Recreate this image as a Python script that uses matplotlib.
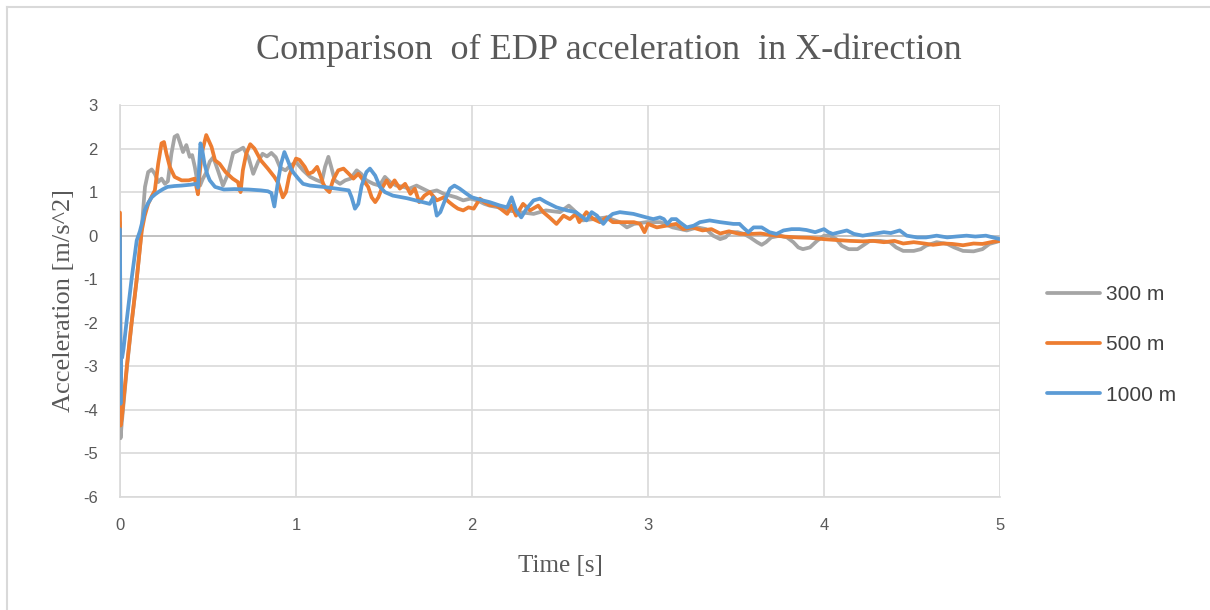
import matplotlib
matplotlib.use("Agg")
import matplotlib.pyplot as plt
from matplotlib.lines import Line2D

plt.rcParams["axes.unicode_minus"] = False

# ---- data: acceleration histories at three distances ----
t_300 = [0.0, 0.003, 0.01, 0.04, 0.066, 0.095, 0.12, 0.142, 0.16, 0.18, 0.198, 0.217, 0.236,
         0.255, 0.272, 0.292, 0.31, 0.326, 0.34, 0.358, 0.377, 0.396, 0.41, 0.425, 0.44, 0.455,
         0.47, 0.49, 0.51, 0.53, 0.557, 0.585, 0.614, 0.643, 0.67, 0.7, 0.73, 0.757, 0.785, 0.81,
         0.835, 0.86, 0.885, 0.91, 0.94, 0.966, 1.0, 1.04, 1.08, 1.115, 1.146, 1.165, 1.184, 1.2,
         1.22, 1.25, 1.28, 1.31, 1.345, 1.37, 1.4, 1.44, 1.475, 1.505, 1.535, 1.57, 1.61, 1.645,
         1.685, 1.72, 1.76, 1.8, 1.84, 1.875, 1.91, 1.95, 1.99, 2.03, 2.07, 2.1, 2.15, 2.2, 2.27,
         2.35, 2.42, 2.5, 2.55, 2.58, 2.63, 2.69, 2.765, 2.84, 2.88, 2.92, 2.99, 3.07, 3.14, 3.22,
         3.28, 3.33, 3.37, 3.41, 3.44, 3.47, 3.51, 3.545, 3.58, 3.62, 3.646, 3.67, 3.7, 3.75, 3.79,
         3.826, 3.854, 3.88, 3.92, 3.96, 4.0, 4.035, 4.07, 4.1, 4.14, 4.19, 4.22, 4.26, 4.32,
         4.375, 4.41, 4.45, 4.51, 4.55, 4.58, 4.64, 4.7, 4.74, 4.79, 4.85, 4.9, 4.94, 5.0]
a_300 = [0.3, -4.65, -4.3, -3.0, -2.0, -1.0, 0.0, 1.12, 1.46, 1.52, 1.42, 1.23, 1.31,
         1.19, 1.25, 1.88, 2.27, 2.31, 2.15, 1.92, 2.08, 1.81, 1.85, 1.58, 1.23, 1.15,
         1.3, 1.45, 1.7, 1.8, 1.49, 1.15, 1.42, 1.9, 1.95, 2.02, 1.8, 1.42, 1.7, 1.88,
         1.82, 1.9, 1.8, 1.56, 1.5, 1.6, 1.69, 1.5, 1.35, 1.28, 1.23, 1.58, 1.81, 1.58,
         1.27, 1.19, 1.27, 1.31, 1.5, 1.42, 1.27, 1.19, 1.15, 1.35, 1.23, 1.15, 1.12, 1.08,
         1.15, 1.08, 1.0, 1.04, 0.96, 0.92, 0.88, 0.81, 0.85, 0.81, 0.73, 0.69, 0.65, 0.58, 0.54,
         0.5, 0.58, 0.54, 0.69, 0.58, 0.35, 0.38, 0.42, 0.31, 0.19, 0.27, 0.31, 0.31, 0.19, 0.12,
         0.19, 0.15, 0.0, -0.08, -0.04, 0.08, 0.08, 0.04, -0.04, -0.15, -0.21, -0.15, -0.04, 0.0, -0.04,
         -0.15, -0.27, -0.31, -0.27, -0.12, 0.0, 0.0, -0.08, -0.23, -0.31, -0.31, -0.23, -0.12, -0.12,
         -0.15, -0.27, -0.35, -0.35, -0.31, -0.23, -0.15, -0.19, -0.27, -0.35, -0.36, -0.31, -0.19, -0.12]

t_500 = [0.0, 0.003, 0.01, 0.04, 0.066, 0.095, 0.123, 0.14, 0.16, 0.18, 0.198, 0.217, 0.236,
         0.25, 0.264, 0.283, 0.31, 0.35, 0.39, 0.425, 0.435, 0.443, 0.452, 0.465, 0.49, 0.52,
         0.54, 0.566, 0.6, 0.64, 0.67, 0.685, 0.698, 0.717, 0.74, 0.764, 0.8, 0.84, 0.877, 0.9,
         0.925, 0.943, 0.962, 0.98, 1.0, 1.02, 1.05, 1.07, 1.095, 1.12, 1.137, 1.155, 1.17, 1.19,
         1.21, 1.24, 1.27, 1.3, 1.326, 1.354, 1.383, 1.41, 1.43, 1.45, 1.468, 1.487, 1.515, 1.535,
         1.56, 1.59, 1.62, 1.65, 1.675, 1.7, 1.73, 1.76, 1.8, 1.84, 1.87, 1.895, 1.92, 1.95, 1.98,
         2.01, 2.045, 2.07, 2.1, 2.14, 2.2, 2.225, 2.25, 2.29, 2.33, 2.376, 2.405, 2.44, 2.48, 2.52,
         2.556, 2.59, 2.61, 2.65, 2.69, 2.727, 2.765, 2.8, 2.86, 2.92, 2.955, 2.98, 3.0, 3.05, 3.106,
         3.16, 3.2, 3.25, 3.31, 3.36, 3.41, 3.46, 3.52, 3.58, 3.64, 3.69, 3.77, 3.85, 3.92, 4.0,
         4.07, 4.15, 4.22, 4.28, 4.34, 4.4, 4.45, 4.51, 4.57, 4.62, 4.68, 4.73, 4.79, 4.85, 4.9,
         4.96, 5.0]
a_500 = [0.53, -4.36, -4.2, -2.95, -2.0, -1.0, 0.1, 0.45, 0.73, 0.9, 1.04, 1.65, 2.12,
         2.15, 1.88, 1.58, 1.35, 1.27, 1.27, 1.31, 1.1, 0.95, 1.4, 1.9, 2.31, 2.04,
         1.73, 1.65, 1.46, 1.31, 1.23, 1.0, 1.5, 1.88, 2.1, 2.0, 1.73, 1.54, 1.35, 1.2,
         0.88, 1.0, 1.38, 1.58, 1.77, 1.74, 1.58, 1.42, 1.46, 1.58, 1.4, 1.19, 1.08, 1.0,
         1.27, 1.5, 1.54, 1.42, 1.31, 1.42, 1.27, 1.12, 0.88, 0.77, 0.88, 1.08, 1.27, 1.12,
         1.27, 1.08, 1.19, 0.96, 1.08, 0.77, 0.92, 1.0, 0.81, 0.88, 0.77, 0.69, 0.62, 0.58, 0.65,
         0.62, 0.85, 0.77, 0.7, 0.69, 0.5, 0.69, 0.46, 0.73, 0.58, 0.69, 0.54, 0.42, 0.27, 0.46,
         0.38, 0.5, 0.31, 0.54, 0.38, 0.31, 0.42, 0.31, 0.31, 0.31, 0.27, 0.08, 0.27, 0.19, 0.23,
         0.27, 0.15, 0.19, 0.12, 0.15, 0.05, 0.1, 0.04, 0.04, 0.05, 0.02, -0.02, -0.04, -0.05, -0.08,
         -0.1, -0.12, -0.13, -0.12, -0.15, -0.12, -0.18, -0.15, -0.18, -0.21, -0.18, -0.19, -0.22, -0.18, -0.19,
         -0.14, -0.12]

t_1000 = [0.0, 0.003, 0.006, 0.012, 0.02, 0.038, 0.066, 0.095, 0.113, 0.132, 0.14, 0.16, 0.18,
          0.2, 0.217, 0.245, 0.27, 0.31, 0.35, 0.4, 0.434, 0.443, 0.45, 0.457, 0.468, 0.48, 0.495,
          0.51, 0.54, 0.59, 0.65, 0.73, 0.8, 0.84, 0.86, 0.877, 0.888, 0.9, 0.915, 0.934, 0.953,
          0.97, 0.985, 1.013, 1.04, 1.08, 1.155, 1.23, 1.3, 1.316, 1.335, 1.354, 1.373, 1.4, 1.42,
          1.45, 1.477, 1.505, 1.55, 1.63, 1.72, 1.76, 1.78, 1.8, 1.82, 1.85, 1.875, 1.9, 1.93, 1.97,
          2.0, 2.06, 2.1, 2.16, 2.2, 2.225, 2.25, 2.28, 2.31, 2.35, 2.386, 2.42, 2.48, 2.54, 2.59,
          2.63, 2.65, 2.68, 2.71, 2.746, 2.775, 2.8, 2.84, 2.917, 2.99, 3.03, 3.068, 3.09, 3.11,
          3.134, 3.16, 3.18, 3.22, 3.26, 3.295, 3.35, 3.41, 3.485, 3.52, 3.54, 3.57, 3.6, 3.646,
          3.69, 3.73, 3.77, 3.816, 3.86, 3.9, 3.95, 4.0, 4.025, 4.05, 4.09, 4.13, 4.17, 4.22, 4.28,
          4.34, 4.38, 4.43, 4.47, 4.53, 4.58, 4.64, 4.7, 4.75, 4.81, 4.86, 4.92, 5.0]
a_1000 = [0.15, -3.86, -2.55, -2.8, -2.6, -1.95, -0.99, -0.11, 0.1, 0.4, 0.58, 0.75, 0.88,
          0.95, 1.0, 1.07, 1.12, 1.14, 1.15, 1.17, 1.19, 1.1, 1.6, 2.12, 1.95, 1.65, 1.42,
          1.27, 1.12, 1.06, 1.07, 1.06, 1.04, 1.02, 0.98, 0.67, 0.98, 1.3, 1.65, 1.92, 1.73,
          1.55, 1.45, 1.31, 1.19, 1.15, 1.12, 1.08, 1.04, 0.88, 0.62, 0.73, 1.15, 1.46, 1.54,
          1.38, 1.12, 1.0, 0.92, 0.86, 0.77, 0.73, 0.88, 0.46, 0.54, 0.85, 1.08, 1.15, 1.08, 0.96,
          0.88, 0.81, 0.77, 0.69, 0.65, 0.88, 0.58, 0.42, 0.62, 0.81, 0.85, 0.77, 0.65, 0.58, 0.54,
          0.42, 0.35, 0.54, 0.46, 0.27, 0.42, 0.5, 0.54, 0.5, 0.42, 0.38, 0.42, 0.38, 0.27,
          0.38, 0.38, 0.31, 0.19, 0.23, 0.31, 0.35, 0.31, 0.27, 0.27, 0.19, 0.08, 0.19, 0.19,
          0.08, 0.04, 0.12, 0.15, 0.15, 0.13, 0.08, 0.15, 0.08, 0.04, 0.08, 0.12, 0.04, 0.0, 0.04,
          0.08, 0.06, 0.12, 0.0, -0.04, -0.04, 0.0, -0.04, -0.02, 0.0, -0.02, 0.0, -0.08]

series_labels = ["300 m", "500 m", "1000 m"]
series_colors = ["#A5A5A5", "#ED7D31", "#5B9BD5"]

x_ticks = [0, 1, 2, 3, 4, 5]
y_ticks = [3, 2, 1, 0, -1, -2, -3, -4, -5, -6]

# ---- figure ----
W, H = 1210, 610
fig = plt.figure(figsize=(W / 100, H / 100), dpi=100)
fig.patch.set_facecolor("white")

# chart-area border (left and top edges)
frame = "#D9D9D9"
fig.add_artist(Line2D([7 / W, 7 / W], [0, 1 - 7 / H], color=frame, lw=1.5))
fig.add_artist(Line2D([7 / W, 1], [1 - 7 / H, 1 - 7 / H], color=frame, lw=1.5))

ax = fig.add_axes([120 / W, 1 - 497 / H, 880 / W, 392 / H])

grid_c = "#D9D9D9"
for spine in ["top", "right"]:
    ax.spines[spine].set_visible(False)
ax.spines["left"].set_color(grid_c)
ax.spines["bottom"].set_color(grid_c)
ax.spines["left"].set_linewidth(1.2)
ax.spines["bottom"].set_linewidth(1.2)

ax.set_xlim(0, 5)
ax.set_ylim(-6, 3)
ax.set_xticks(x_ticks)
ax.set_yticks(y_ticks)
ax.grid(True, color=grid_c, lw=1.2)
ax.axhline(0, color="#BFBFBF", lw=1.3, zorder=1)
ax.set_axisbelow(True)
ax.tick_params(length=0, labelsize=12, labelcolor="#595959")
ax.tick_params(axis="x", pad=15)
ax.tick_params(axis="y", pad=16)
for lab in ax.get_xticklabels() + ax.get_yticklabels():
    lab.set_fontfamily("Liberation Sans")

series = [(t_300, a_300), (t_500, a_500), (t_1000, a_1000)]
handles = []
for (tt, aa), lab, col in zip(series, series_labels, series_colors):
    h, = ax.plot(tt, aa, color=col, lw=2.7, label=lab, solid_joinstyle="round",
                 solid_capstyle="round", zorder=3)
    handles.append(h)

ax.set_xlabel("Time [s]", fontfamily="Liberation Serif", fontsize=18,
              color="#595959", labelpad=16)
ax.set_ylabel("Acceleration [m/s^2]", fontfamily="Liberation Serif", fontsize=19,
              color="#595959", labelpad=6)

fig.text(609 / W, 1 - 50 / H, "Comparison  of EDP acceleration  in X-direction",
         fontfamily="Liberation Serif", fontsize=26, color="#595959",
         ha="center", va="center")

leg = fig.legend(handles=handles, labels=series_labels, loc="center left",
                 bbox_to_anchor=(1047 / W, 1 - 345 / H), frameon=False,
                 borderaxespad=0, borderpad=0, handlelength=2.55,
                 handletextpad=0.3, labelspacing=1.5,
                 prop={"family": "Liberation Sans", "size": 15})
for txt in leg.get_texts():
    txt.set_color("#404040")

fig.savefig("out.png", dpi=100, facecolor="white")
